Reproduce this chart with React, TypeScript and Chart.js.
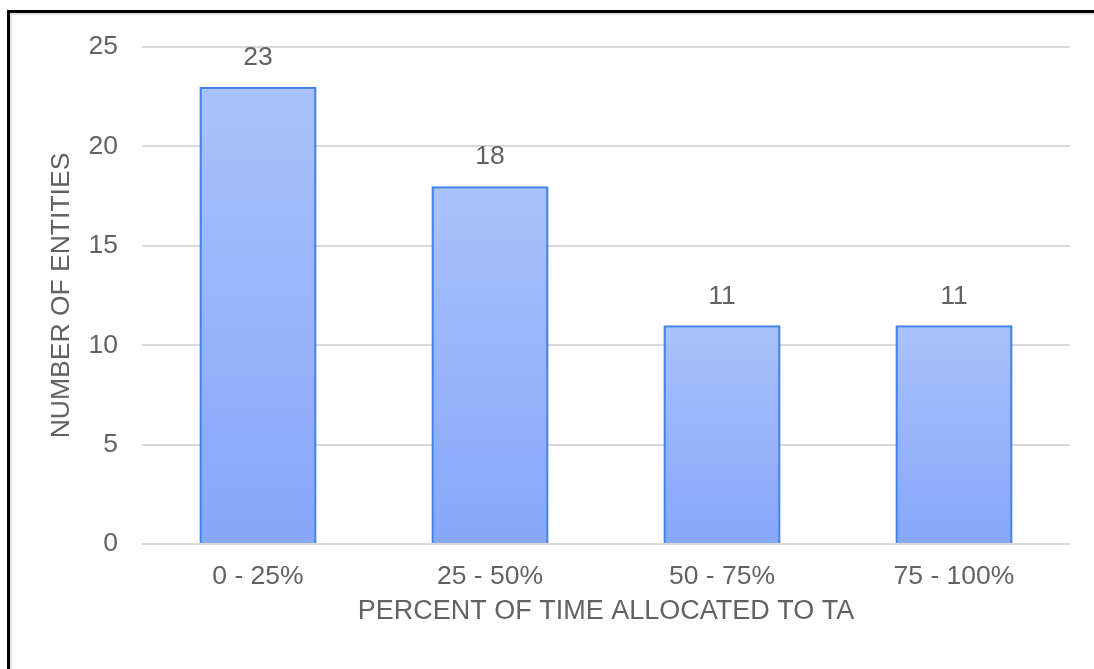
import React, { useEffect, useRef } from "react";
import { Chart, registerables } from "chart.js";

Chart.register(...registerables);

// Distribution of entities by share of time allocated to TA
const categories: string[] = ["0 - 25%", "25 - 50%", "50 - 75%", "75 - 100%"];
const entityCounts: number[] = [23, 18, 11, 11];
const yTicks: number[] = [0, 5, 10, 15, 20, 25];

const xAxisTitle = "PERCENT OF TIME ALLOCATED TO TA";
const yAxisTitle = "NUMBER OF ENTITIES";

const FONT = "'Liberation Sans', Arial, Helvetica, sans-serif";
const TEXT = "#626262";
const GRID = "#d9d9d9";

// Writes each bar's value centred above it
const valueLabels = {
  id: "valueLabels",
  afterDatasetsDraw(chart: any) {
    const ctx = chart.ctx;
    const meta = chart.getDatasetMeta(0);
    const data = chart.data.datasets[0].data as number[];
    ctx.save();
    ctx.font = `26.5px ${FONT}`;
    ctx.fillStyle = TEXT;
    ctx.textAlign = "center";
    ctx.textBaseline = "middle";
    meta.data.forEach((bar: any, i: number) => {
      ctx.fillText(String(data[i]), bar.x, bar.y - 29);
    });
    ctx.restore();
  },
};

export default function App() {
  const canvasRef = useRef<HTMLCanvasElement | null>(null);

  useEffect(() => {
    if (!canvasRef.current) return;
    const chart = new Chart(canvasRef.current, {
      type: "bar",
      data: {
        labels: categories,
        datasets: [
          {
            data: entityCounts,
            // vertical gradient per bar: pale at its top, deeper at the base
            backgroundColor: (c: any) => {
              const ch = c.chart;
              const y = ch.scales && ch.scales.y;
              if (!y || c.raw === undefined) return "#98b4f9";
              const top = y.getPixelForValue(c.raw);
              const base = y.getPixelForValue(0);
              if (!isFinite(top) || !isFinite(base) || top === base) return "#98b4f9";
              const g = ch.ctx.createLinearGradient(0, top, 0, base);
              g.addColorStop(0, "#aac2fa");
              g.addColorStop(1, "#86a7f9");
              return g;
            },
            borderColor: "#4583f0",
            borderWidth: 2.5,
            borderSkipped: "start",
            barPercentage: 0.505,
            categoryPercentage: 1,
          },
        ],
      },
      options: {
        responsive: false,
        animation: false,
        layout: { padding: { left: 46, top: 47, right: 24, bottom: 41 } },
        plugins: {
          legend: { display: false },
          tooltip: { enabled: false },
        },
        scales: {
          x: {
            grid: { display: false, drawTicks: false },
            border: { display: false },
            ticks: {
              color: TEXT,
              font: { family: FONT, size: 26.5 },
              padding: 17,
            },
            title: {
              display: true,
              text: xAxisTitle,
              color: TEXT,
              font: { family: FONT, size: 27 },
              padding: 0,
            },
            afterFit(scale: any) {
              scale.height = 84;
            },
          },
          y: {
            min: 0,
            max: 25,
            afterBuildTicks(scale: any) {
              scale.ticks = yTicks.map((v) => ({ value: v }));
            },
            grid: { color: GRID, lineWidth: 2, drawTicks: false },
            border: { display: false },
            ticks: {
              color: TEXT,
              font: { family: FONT, size: 26.5 },
              padding: 24,
            },
            title: {
              display: true,
              text: yAxisTitle,
              color: TEXT,
              font: { family: FONT, size: 26.5 },
              padding: 0,
            },
            afterFit(scale: any) {
              scale.width = 96;
            },
          },
        },
      },
      plugins: [valueLabels],
    });
    return () => chart.destroy();
  }, []);

  return (
    <div
      style={{
        position: "absolute",
        left: 0,
        top: 0,
        width: 1094,
        height: 669,
        background: "#ffffff",
        overflow: "hidden",
      }}
    >
      <canvas
        ref={canvasRef}
        width={1094}
        height={669}
        style={{ position: "absolute", left: 0, top: 0, width: 1094, height: 669 }}
      />
      <div
        style={{
          position: "absolute",
          left: 7,
          top: 10,
          width: 1094,
          height: 656,
          borderTop: "3px solid #000",
          borderLeft: "3px solid #000",
          borderBottom: "1px solid #ececec",
          boxShadow: "inset 2px 2px 1px rgba(0,0,0,0.12)",
          pointerEvents: "none",
        }}
      />
    </div>
  );
}
